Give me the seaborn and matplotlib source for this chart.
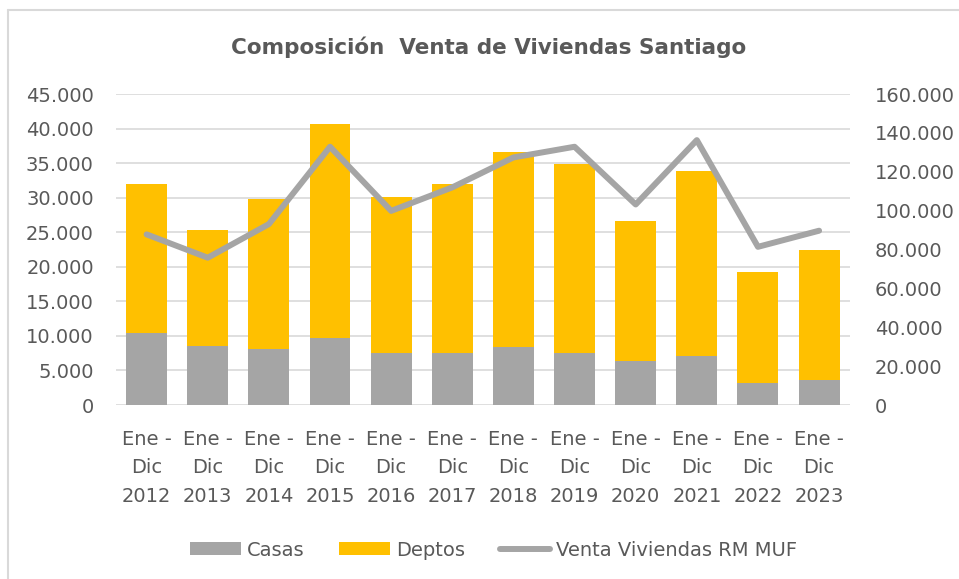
import numpy as np
import pandas as pd
import matplotlib
matplotlib.use('Agg')
import matplotlib.pyplot as plt
import seaborn as sns
from matplotlib.ticker import FuncFormatter, MultipleLocator
from matplotlib.patches import Patch
from matplotlib.lines import Line2D

sns.set_theme(style='white')
plt.rcParams['font.family'] = ['DejaVu Sans']

# values
years = [2012, 2013, 2014, 2015, 2016, 2017, 2018, 2019, 2020, 2021, 2022, 2023]
casas = [10400, 8600, 8100, 9700, 7500, 7500, 8400, 7500, 6400, 7100, 3200, 3600]
deptos = [21600, 16700, 21700, 31000, 22600, 24500, 28200, 27400, 20300, 26700, 16100, 18900]
venta_muf = [87800, 75800, 93100, 132900, 99900, 112000, 127400, 132900, 103200, 136300, 81400, 89700]

periodos = ['Ene -\nDic\n%d' % y for y in years]

GRAY = '#A5A5A5'
YELLOW = '#FFC000'
TEXT = '#595959'
GRID = '#D9D9D9'

df = pd.DataFrame({'periodo': periodos, 'Casas': casas, 'Deptos': deptos,
                   'MUF': venta_muf})
df['total'] = df['Casas'] + df['Deptos']

def miles(v, pos):
    return '{:,.0f}'.format(v).replace(',', '.')

fig = plt.figure(figsize=(9.59, 5.79), dpi=100)
ax = fig.add_axes([0.121, 0.3005, 0.765, 0.537])

# stacked bars: total in yellow, casas drawn over it
sns.barplot(data=df, x='periodo', y='total', color=YELLOW, saturation=1,
            width=0.67, linewidth=0, ax=ax, zorder=2)
sns.barplot(data=df, x='periodo', y='Casas', color=GRAY, saturation=1,
            width=0.67, linewidth=0, ax=ax, zorder=3)
ax.set_xlim(-0.5, len(periodos) - 0.5)
ax.set_ylim(0, 45000)
ax.yaxis.set_major_locator(MultipleLocator(5000))
ax.yaxis.set_major_formatter(FuncFormatter(miles))
ax.grid(axis='y', color=GRID, linewidth=1.2, zorder=0)
ax.set_axisbelow(True)
ax.set_xlabel('')
ax.set_ylabel('')
ax.tick_params(axis='y', length=0, pad=16, labelsize=14, labelcolor=TEXT)
ax.tick_params(axis='x', length=0, pad=18, labelsize=14, labelcolor=TEXT)
for lbl in ax.get_xticklabels():
    lbl.set_linespacing(1.62)
for s in ax.spines.values():
    s.set_visible(False)

ax2 = ax.twinx()
sns.lineplot(data=df, x='periodo', y='MUF', color=GRAY, linewidth=4.3,
             sort=False, ax=ax2, solid_capstyle='round')
ax2.set_ylim(0, 160000)
ax2.yaxis.set_major_locator(MultipleLocator(20000))
ax2.yaxis.set_major_formatter(FuncFormatter(miles))
ax2.tick_params(axis='y', length=0, pad=18, labelsize=14, labelcolor=TEXT)
ax2.set_ylabel('')
ax2.set_xlabel('')
for s in ax2.spines.values():
    s.set_visible(False)

fig.text(0.51, 1 - 47 / 579, 'Composición  Venta de Viviendas Santiago',
         ha='center', va='center', fontsize=15.5, fontweight='bold', color=TEXT)

handles = [Patch(facecolor=GRAY, edgecolor='none', label='Casas'),
           Patch(facecolor=YELLOW, edgecolor='none', label='Deptos'),
           Line2D([0], [0], color=GRAY, linewidth=4.3, label='Venta Viviendas RM MUF')]
leg = fig.legend(handles=handles, loc='center', ncol=3,
                 bbox_to_anchor=(0.515, 1 - 550 / 579), frameon=False,
                 fontsize=14, handlelength=2.6, handleheight=0.6,
                 handletextpad=0.3, columnspacing=1.8)
for t in leg.get_texts():
    t.set_color(TEXT)

# light frame of the chart area (only the top and left edges show)
x0, y0 = 8 / 959, 1 - 10 / 579
fig.add_artist(Line2D([x0, x0], [0, y0], transform=fig.transFigure,
                      color=GRID, linewidth=1.5))
fig.add_artist(Line2D([x0, 1], [y0, y0], transform=fig.transFigure,
                      color=GRID, linewidth=1.5))

fig.savefig('out.png', dpi=100)
